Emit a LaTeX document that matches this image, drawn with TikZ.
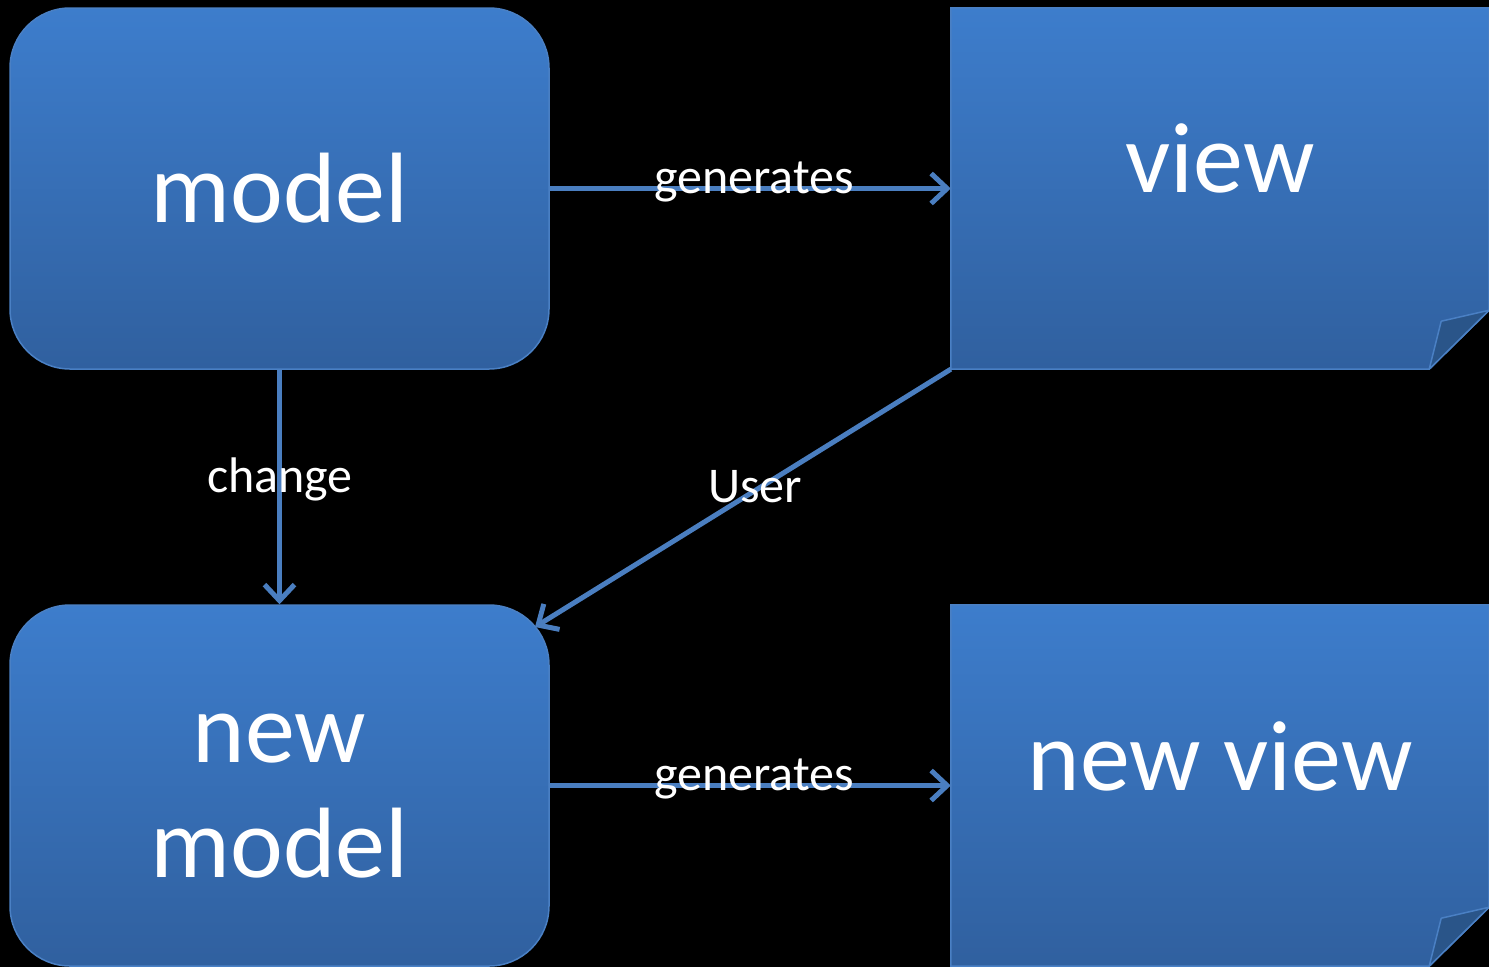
\documentclass[tikz,border=0pt]{standalone}
\usepackage{fontspec}
\setmainfont{Carlito}
\usetikzlibrary{arrows.meta,calc}
\definecolor{boxtop}{HTML}{3D7DCC}
\definecolor{boxbot}{HTML}{30609F}
\definecolor{edge}{HTML}{4A80C4}
\definecolor{foldfill}{HTML}{2A5589}
\definecolor{arrowc}{HTML}{4A7EC0}
\tikzset{
  boxfill/.style={top color=boxtop, bottom color=boxbot, draw=edge, line width=1.5pt},
  roundbox/.style={boxfill, rounded corners=60pt, minimum width=539pt, minimum height=361pt, inner sep=0pt},
  pagebox/.style={minimum width=538pt, minimum height=361pt, inner sep=0pt},
  bigtext/.style={text=white, font=\fontsize{100}{115}\selectfont, inner sep=0pt},
  smalltext/.style={text=white, font=\fontsize{50}{60}\selectfont, inner sep=0pt},
  conn/.style={draw=arrowc, line width=5pt, -{Straight Barb[length=16pt,width=30pt,line width=5pt]}},
}
\begin{document}
\begin{tikzpicture}[x=1pt,y=-1pt]
\fill[black] (0,0) rectangle (1489,967);
\useasboundingbox (0,0) rectangle (1489,967);
% boxes
\node[roundbox] (model) at (279.5,188.5) {};
\node[roundbox] (newmodel) at (279.5,785.5) {};
\node[pagebox] (view) at (1220,188.5) {};
\node[pagebox] (newview) at (1220,785.5) {};
% page shapes with folded corner
\foreach \n in {view,newview}{
  \path[boxfill] (\n.north west) -- (\n.north east) -- ($(\n.south east)+(0,-59)$) -- ($(\n.south east)+(-60,0)$) -- (\n.south west) -- cycle;
  \path[fill=foldfill, draw=edge, line width=1.5pt, line join=round] ($(\n.south east)+(-60,0)$) -- ($(\n.south east)+(-48,-48)$) -- ($(\n.south east)+(0,-59)$) -- cycle;
}
% texts
\node[bigtext, anchor=base] (modeltext) at (279.5,222) {model};
\node[bigtext, anchor=base] (newtext) at (279.5,762) {new};
\node[bigtext, anchor=base] (newmodeltext) at (279.5,877) {model};
\node[bigtext, anchor=base] (viewtext) at (1220,192) {view};
\node[bigtext, anchor=base] (newviewtext) at (1220,790) {new view};
% connectors
\coordinate (userend) at (535,627);
\draw[conn] (model.east) -- (view.west);
\draw[conn] (newmodel.east) -- (newview.west);
\draw[conn] (model.south) -- (newmodel.north);
\draw[conn] (view.south west) -- (userend);
% labels
\node[smalltext, anchor=base] (gen1) at (754,193) {generates};
\node[smalltext, anchor=base] (gen2) at (754,790) {generates};
\node[smalltext, anchor=base] (chg) at (280,492) {change};
\node[smalltext, anchor=base] (usr) at (755,502) {User};
\end{tikzpicture}
\end{document}
